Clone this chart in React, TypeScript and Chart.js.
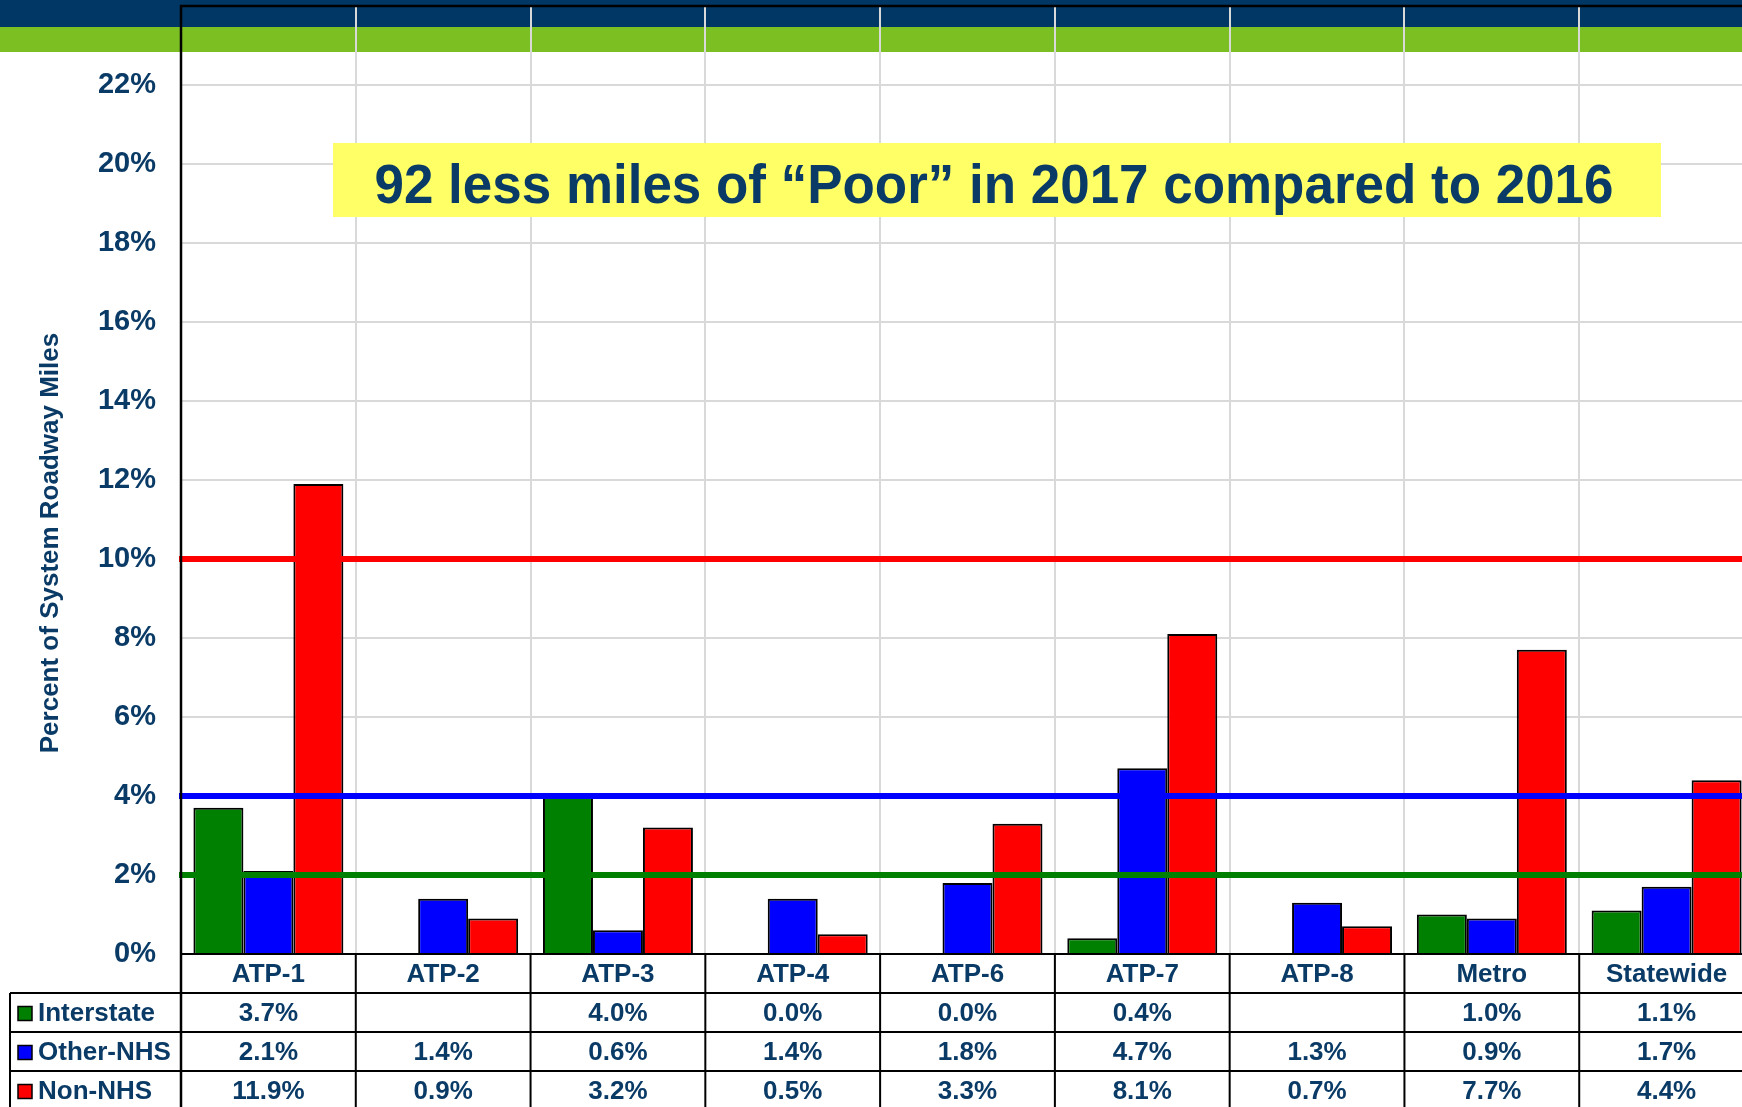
import React, { useEffect, useRef } from 'react';
import { Chart, registerables } from 'chart.js';

Chart.register(...registerables);

// ---------- data ----------
const categories = ['ATP-1', 'ATP-2', 'ATP-3', 'ATP-4', 'ATP-6', 'ATP-7', 'ATP-8', 'Metro', 'Statewide'];
const seriesNames = ['Interstate', 'Other-NHS', 'Non-NHS'];
const interstate: (number | null)[] = [3.7, null, 4.0, 0.0, 0.0, 0.4, null, 1.0, 1.1];
const otherNhs: (number | null)[] = [2.1, 1.4, 0.6, 1.4, 1.8, 4.7, 1.3, 0.9, 1.7];
const nonNhs: (number | null)[] = [11.9, 0.9, 3.2, 0.5, 3.3, 8.1, 0.7, 7.7, 4.4];
const targetValues = [10, 4, 2];
const yMin = 0;
const yMax = 24;
const yStep = 2;
const annotationText = '92 less miles of \u201CPoor\u201D in 2017 compared to 2016';
const yTitle = 'Percent of System Roadway Miles';

// ---------- styles ----------
const seriesColors = ['#008000', '#0000FF', '#FF0000'];
const targetColors = ['#FF0000', '#0000FF', '#008000'];
const NAVY_TEXT = '#0A3A66';
const FAMILY = '"Liberation Sans", Arial, Helvetica, sans-serif';
const CANVAS_W = 1760;
const CANVAS_H = 1107;

const seriesData = [interstate, otherNhs, nonNhs];

function fmt(v: number | null) {
  return v == null ? '' : v.toFixed(1) + '%';
}

const decorPlugin = {
  id: 'decor',
  beforeDraw(chart: any) {
    const { ctx, width } = chart;
    ctx.save();
    ctx.fillStyle = '#FFFFFF';
    ctx.fillRect(0, 0, width, chart.height);
    ctx.fillStyle = '#003764';
    ctx.fillRect(0, 0, width, 27);
    ctx.fillStyle = '#7BBF22';
    ctx.fillRect(0, 27, width, 25);
    ctx.restore();
  },
  beforeDatasetsDraw(chart: any) {
    const { ctx } = chart;
    ctx.save();
    ctx.fillStyle = '#FFFF66';
    ctx.fillRect(333, 143, 1328, 74);
    ctx.fillStyle = NAVY_TEXT;
    ctx.font = `bold 56px ${FAMILY}`;
    ctx.textAlign = 'center';
    ctx.textBaseline = 'middle';
    const w = ctx.measureText(annotationText).width;
    const sx = Math.min(1, 1239 / w);
    ctx.translate(994, 188);
    ctx.scale(sx, 1);
    ctx.fillText(annotationText, 0, 0);
    ctx.restore();
  },
  afterDatasetsDraw(chart: any) {
    const { ctx, chartArea } = chart;
    const y = chart.scales.y;
    ctx.save();
    targetValues.forEach((v, i) => {
      const py = y.getPixelForValue(v);
      ctx.strokeStyle = targetColors[i];
      ctx.lineWidth = 6;
      ctx.beginPath();
      ctx.moveTo(chartArea.left - 2, py);
      ctx.lineTo(chart.width, py);
      ctx.stroke();
    });
    ctx.restore();
  },
  afterDraw(chart: any) {
    const { ctx, chartArea, width, height } = chart;
    const x = chart.scales.x;
    const n = categories.length;
    const c0 = x.getPixelForValue(0);
    const band = x.getPixelForValue(1) - c0;
    const rowH = 39;
    const rowTop = chartArea.bottom + rowH;

    ctx.save();
    ctx.strokeStyle = '#000000';
    ctx.lineWidth = 2.5;
    // plot border (left + top)
    ctx.beginPath();
    ctx.moveTo(chartArea.left, height);
    ctx.lineTo(chartArea.left, chartArea.top);
    ctx.lineTo(width, chartArea.top);
    ctx.stroke();

    // table grid
    ctx.lineWidth = 2;
    ctx.beginPath();
    ctx.moveTo(chartArea.left, chartArea.bottom);
    ctx.lineTo(width, chartArea.bottom);
    for (let k = 0; k < 4; k++) {
      const yy = rowTop + k * rowH;
      ctx.moveTo(10, yy);
      ctx.lineTo(width, yy);
    }
    ctx.moveTo(10, rowTop);
    ctx.lineTo(10, height);
    for (let i = 1; i <= n; i++) {
      const bx = c0 - band / 2 + i * band;
      ctx.moveTo(bx, chartArea.bottom);
      ctx.lineTo(bx, height);
    }
    ctx.stroke();

    // table rows
    ctx.font = `bold 26px ${FAMILY}`;
    ctx.textBaseline = 'middle';
    seriesNames.forEach((name, r) => {
      const cy = rowTop + r * rowH + rowH / 2 + 1;
      ctx.fillStyle = seriesColors[r];
      ctx.fillRect(18, cy - 7, 14, 14);
      ctx.lineWidth = 1.5;
      ctx.strokeStyle = '#000000';
      ctx.strokeRect(18, cy - 7, 14, 14);
      ctx.fillStyle = NAVY_TEXT;
      ctx.textAlign = 'left';
      ctx.fillText(name, 38, cy);
      ctx.textAlign = 'center';
      seriesData[r].forEach((v, i) => {
        ctx.fillText(fmt(v), x.getPixelForValue(i), cy);
      });
    });

    // y-axis title
    ctx.translate(51, 543);
    ctx.rotate(-Math.PI / 2);
    ctx.font = `bold 26px ${FAMILY}`;
    ctx.textAlign = 'center';
    ctx.textBaseline = 'middle';
    ctx.fillStyle = NAVY_TEXT;
    ctx.fillText(yTitle, 0, 0);
    ctx.restore();
  },
};

export default function App() {
  const ref = useRef<HTMLCanvasElement | null>(null);

  useEffect(() => {
    if (!ref.current) return;
    const chart = new Chart(ref.current, {
      type: 'bar',
      data: {
        labels: categories,
        datasets: seriesNames.map((name, i) => ({
          label: name,
          data: seriesData[i] as any,
          backgroundColor: seriesColors[i],
          borderColor: '#000000',
          borderWidth: 2,
          borderSkipped: 'start',
          categoryPercentage: 0.858,
          barPercentage: 1,
        })),
      },
      options: {
        responsive: false,
        animation: false,
        devicePixelRatio: 1,
        layout: { padding: { top: 6, right: 6, left: 0, bottom: 0 } },
        plugins: {
          legend: { display: false },
          tooltip: { enabled: false },
          title: { display: false },
        },
        scales: {
          x: {
            grid: { color: '#D9D9D9', lineWidth: 2, drawTicks: false, offset: true },
            border: { display: false },
            ticks: {
              autoSkip: false,
              maxRotation: 0,
              padding: 5,
              color: NAVY_TEXT,
              font: { family: FAMILY, size: 26, weight: 'bold' },
            },
            afterFit: (s: any) => {
              s.height = 153;
              s.paddingLeft = 0;
              s.paddingRight = 0;
            },
          },
          y: {
            min: yMin,
            max: yMax,
            grid: { color: '#D9D9D9', lineWidth: 2, drawTicks: false },
            border: { display: false },
            ticks: {
              stepSize: yStep,
              padding: 25,
              color: NAVY_TEXT,
              font: { family: FAMILY, size: 29, weight: 'bold' },
              callback: (v: any) => (Number(v) === yMax ? '' : v + '%'),
            },
            afterFit: (s: any) => {
              s.width = 181;
              s.paddingTop = 0;
              s.paddingBottom = 0;
            },
          },
        },
      } as any,
      plugins: [decorPlugin],
    });
    return () => chart.destroy();
  }, []);

  return (
    <div
      style={{
        position: 'fixed',
        left: 0,
        top: 0,
        width: 1742,
        height: 1107,
        overflow: 'hidden',
        background: '#FFFFFF',
      }}
    >
      <canvas ref={ref} width={CANVAS_W} height={CANVAS_H} style={{ display: 'block', width: CANVAS_W, height: CANVAS_H }} />
    </div>
  );
}
